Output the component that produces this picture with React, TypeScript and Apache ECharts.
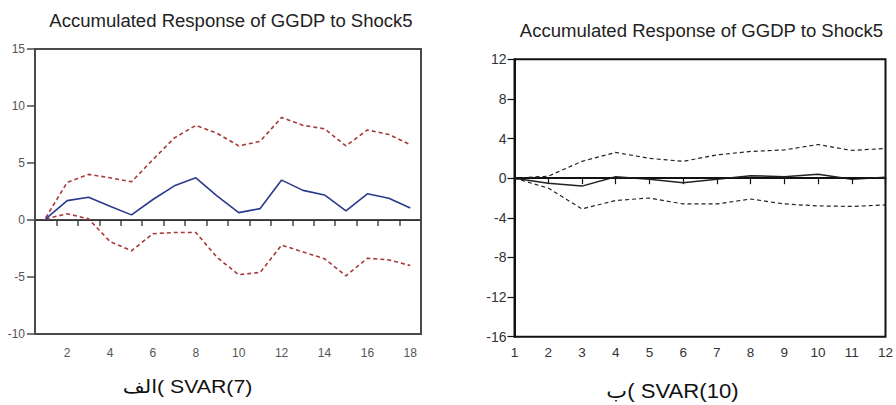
import React, { useEffect, useRef } from "react";
import * as echarts from "echarts";

// Left panel: SVAR(7), periods 1..18
const periodsA = ["1","2","3","4","5","6","7","8","9","10","11","12","13","14","15","16","17","18"];
const responseA = [0.1, 1.7, 2.0, 1.2, 0.45, 1.8, 3.0, 3.7, 2.1, 0.65, 1.0, 3.5, 2.6, 2.2, 0.8, 2.3, 1.9, 1.05];
const upperA = [0.2, 3.3, 4.0, 3.7, 3.35, 5.3, 7.2, 8.3, 7.6, 6.5, 6.9, 9.0, 8.3, 8.0, 6.5, 7.9, 7.5, 6.6];
const lowerA = [0.1, 0.55, 0.1, -1.9, -2.7, -1.2, -1.1, -1.1, -3.3, -4.8, -4.6, -2.2, -2.8, -3.4, -4.9, -3.35, -3.5, -4.0];

// Right panel: SVAR(10), periods 1..12
const periodsB = ["1","2","3","4","5","6","7","8","9","10","11","12"];
const responseB = [0, -0.5, -0.8, 0.15, -0.1, -0.45, -0.1, 0.25, 0.15, 0.4, -0.1, 0.1];
const upperB = [0, 0.2, 1.7, 2.6, 2.0, 1.7, 2.35, 2.7, 2.85, 3.4, 2.8, 3.0];
const lowerB = [0, -1.0, -3.1, -2.25, -2.0, -2.6, -2.6, -2.1, -2.6, -2.8, -2.85, -2.7];

const titleText = "Accumulated Response of GGDP to Shock5";
const captionA = "\u200Eالف\u200E( SVAR(7)";
const captionB = "\u200Eب\u200E( SVAR(10)";

const FONT = "Arial, 'Liberation Sans', 'DejaVu Sans', sans-serif";

export default function App() {
  const ref = useRef<HTMLDivElement>(null);

  useEffect(() => {
    if (!ref.current) return;
    const chart = echarts.init(ref.current, undefined, { renderer: "svg" });

    const blue = "#2c3a8c";
    const red = "#a83a3a";

    const option: any = {
      animation: false,
      backgroundColor: "#ffffff",
      grid: [
        { left: 35, top: 49, width: 386, height: 285, show: true, borderColor: "#4a4a4a", borderWidth: 2, backgroundColor: "transparent" },
        { left: 514.5, top: 59.3, width: 372.5, height: 277.4, show: true, borderColor: "#111", borderWidth: 2, backgroundColor: "transparent" },
      ],
      xAxis: [
        {
          gridIndex: 0,
          type: "category",
          data: periodsA,
          boundaryGap: true,
          axisLine: { show: true, lineStyle: { color: "#4a4a4a", width: 2 } },
          axisTick: { show: true, interval: 0, length: 6, lineStyle: { color: "#4a4a4a", width: 1.5 } },
          axisLabel: {
            interval: (i: number) => i % 2 === 1,
            margin: 13,
            fontSize: 12,
            color: "#555",
            fontFamily: FONT,
          },
          splitLine: { show: false },
        },
        {
          gridIndex: 1,
          type: "category",
          data: periodsB,
          boundaryGap: false,
          axisLine: { show: true, lineStyle: { color: "#111", width: 2 } },
          axisTick: { show: true, interval: 0, length: 6, lineStyle: { color: "#111", width: 1.2 } },
          axisLabel: { interval: 0, margin: 9, fontSize: 13.5, color: "#333", fontFamily: FONT },
          splitLine: { show: false },
        },
      ],
      yAxis: [
        {
          gridIndex: 0,
          type: "value",
          min: -10,
          max: 15,
          interval: 5,
          axisLine: { show: true, lineStyle: { color: "#4a4a4a", width: 2 } },
          axisTick: { show: true, length: 8, lineStyle: { color: "#4a4a4a", width: 1.5 } },
          axisLabel: { margin: 10, fontSize: 12, color: "#555", fontFamily: FONT },
          splitLine: { show: false },
        },
        {
          gridIndex: 1,
          type: "value",
          min: -16,
          max: 12,
          interval: 4,
          axisLine: { show: true, lineStyle: { color: "#111", width: 2 } },
          axisTick: { show: true, length: 7, lineStyle: { color: "#111", width: 1.2 } },
          axisLabel: { margin: 8, fontSize: 14, color: "#333", fontFamily: FONT },
          splitLine: { show: false },
        },
      ],
      series: [
        {
          type: "line",
          xAxisIndex: 0,
          yAxisIndex: 0,
          data: upperA,
          symbol: "none",
          lineStyle: { color: red, width: 1.6, type: [4, 3] },
          z: 3,
        },
        {
          type: "line",
          xAxisIndex: 0,
          yAxisIndex: 0,
          data: lowerA,
          symbol: "none",
          lineStyle: { color: red, width: 1.6, type: [4, 3] },
          z: 3,
        },
        {
          type: "line",
          xAxisIndex: 0,
          yAxisIndex: 0,
          data: responseA,
          symbol: "none",
          lineStyle: { color: blue, width: 1.6 },
          z: 4,
          markLine: {
            silent: true,
            symbol: ["none", "none"],
            label: { show: false },
            lineStyle: { color: "#333", width: 1, type: "solid" },
            data: [{ yAxis: 0 }],
          },
        },
        {
          type: "line",
          xAxisIndex: 1,
          yAxisIndex: 1,
          data: upperB,
          symbol: "none",
          lineStyle: { color: "#222", width: 1.2, type: [4, 3] },
          z: 3,
        },
        {
          type: "line",
          xAxisIndex: 1,
          yAxisIndex: 1,
          data: lowerB,
          symbol: "none",
          lineStyle: { color: "#222", width: 1.2, type: [4, 3] },
          z: 3,
        },
        {
          type: "line",
          xAxisIndex: 1,
          yAxisIndex: 1,
          data: responseB,
          symbol: "none",
          lineStyle: { color: "#222", width: 1.5 },
          z: 4,
          markLine: {
            silent: true,
            symbol: ["none", "none"],
            label: { show: false },
            lineStyle: { color: "#111", width: 1, type: "solid" },
            data: [{ yAxis: 0 }],
          },
        },
      ],
      graphic: [
        {
          type: "text",
          x: 231,
          y: 21,
          scaleX: 1.06,
          style: { text: titleText, fontSize: 17.5, fontFamily: FONT, fill: "#222", align: "center", verticalAlign: "middle" },
        },
        {
          type: "text",
          x: 701.5,
          y: 31,
          scaleX: 1.06,
          style: { text: titleText, fontSize: 17.5, fontFamily: FONT, fill: "#222", align: "center", verticalAlign: "middle" },
        },
        {
          type: "text",
          x: 187.5,
          y: 387,
          scaleX: 1.15,
          style: { text: captionA, fontSize: 18.5, fontFamily: FONT, fill: "#111", align: "center", verticalAlign: "middle" },
        },
        {
          type: "text",
          x: 672.5,
          y: 391,
          scaleX: 1.08,
          style: { text: captionB, fontSize: 20.5, fontFamily: FONT, fill: "#111", align: "center", verticalAlign: "middle" },
        },
      ],
    };

    chart.setOption(option);
    return () => chart.dispose();
  }, []);

  return (
    <div
      ref={ref}
      style={{ position: "absolute", left: 0, top: 0, width: 896, height: 405, background: "#fff" }}
    />
  );
}
